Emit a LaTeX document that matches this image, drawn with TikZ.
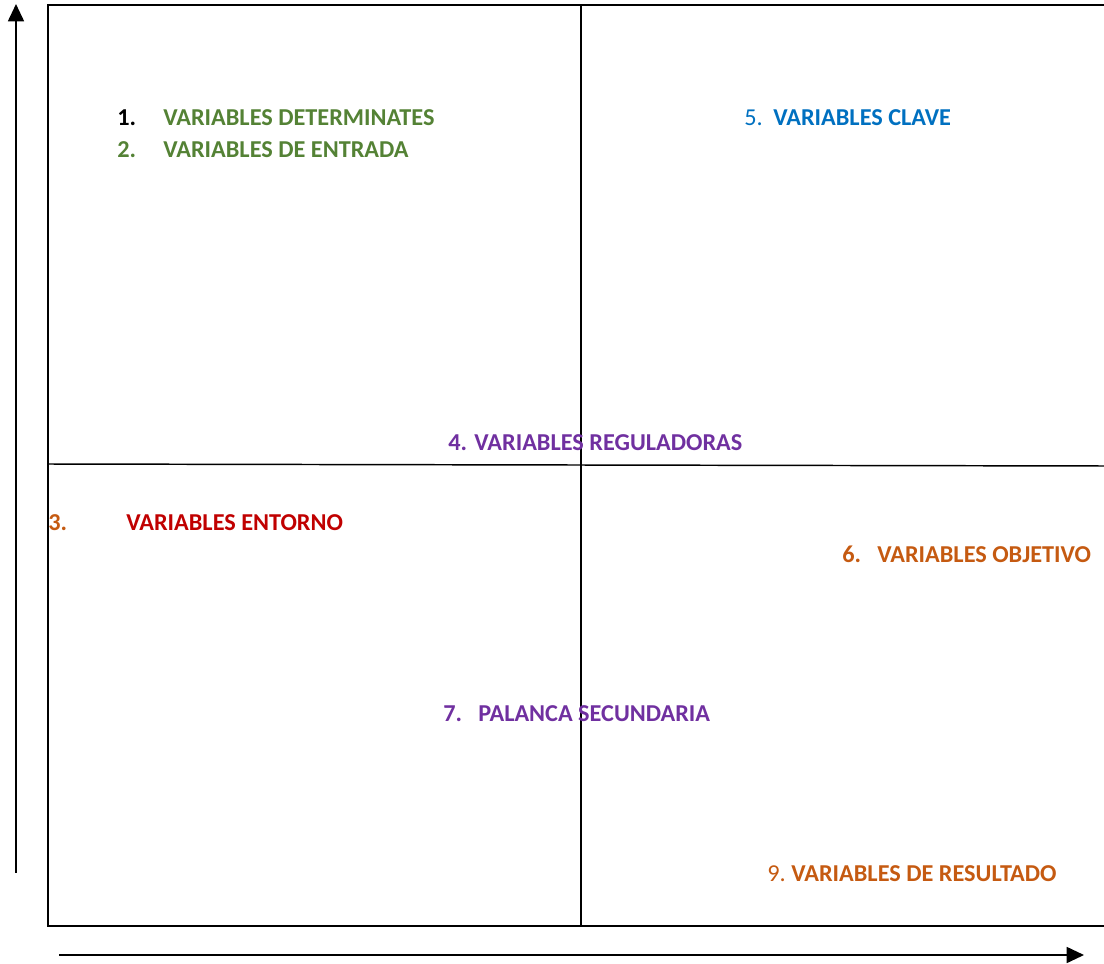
\documentclass[tikz,border=0pt]{standalone}
\usepackage{fontspec}
\setmainfont{Carlito}[BoldFont=Carlito Bold]
\usepackage{xcolor}
\usetikzlibrary{arrows.meta}
\definecolor{vgreen}{HTML}{548235}
\definecolor{vblue}{HTML}{0070C0}
\definecolor{vpurple}{HTML}{7030A0}
\definecolor{vred}{HTML}{C00000}
\definecolor{vorange}{HTML}{C55A11}

\begin{document}
\begin{tikzpicture}
    [line cap=rect,line join=miter,x=0.75pt,y=-0.75pt,
     frame/.style={line width=1.1pt,black},
     axis/.style={line width=1.3pt,-{Triangle[length=13pt,width=12pt]}},
     lbl/.style={anchor=base west,inner sep=0pt,font=\fontsize{18.2}{21}\selectfont\bfseries},
     plain/.style={font=\fontsize{18.2}{21}\selectfont}]
\useasboundingbox (0,0) rectangle (1104,964);
%the four quadrants
\draw[frame] (1110,5) -- (48,5) -- (48,926) -- (1110,926);
\draw[frame] (48,464) -- (1110,466);
\draw[frame] (581,5) -- (581,926);
%axes
\coordinate (yfrom) at (16,872);
\coordinate (yto) at (16,4);
\coordinate (xfrom) at (60,955);
\coordinate (xto) at (1084,955);
\draw[axis] (yfrom) -- (yto);
\draw[axis] (xfrom) -- (xto);
%top left
\node[lbl,black] (n1) at (117,125) {1.};
\node[lbl,vgreen] (det) at (163,125) {VARIABLES DETERMINATES};
\node[lbl,vgreen] (n2) at (117,157) {2.};
\node[lbl,vgreen] (ent) at (163,157) {VARIABLES DE ENTRADA};
%top right
\node[lbl,vblue,plain] (n5) at (744,125) {5.};
\node[lbl,vblue] (cla) at (773,125) {VARIABLES CLAVE};
%centre
\node[lbl,vpurple] (reg) at (448,450) {4. VARIABLES REGULADORAS};
%bottom left
\node[lbl,vorange] (n3) at (48,530) {3.};
\node[lbl,vred] (ento) at (126,530) {VARIABLES ENTORNO};
\node[lbl,vpurple] (n7) at (443,721) {7.};
\node[lbl,vpurple] (pal) at (478,721) {PALANCA SECUNDARIA};
%bottom right
\node[lbl,vorange] (n6) at (842,562) {6.};
\node[lbl,vorange] (obj) at (877,562) {VARIABLES OBJETIVO};
\node[lbl,vorange,plain] (n9) at (767,881) {9.};
\node[lbl,vorange] (res) at (791,881) {VARIABLES DE RESULTADO};
\end{tikzpicture}
\end{document}
